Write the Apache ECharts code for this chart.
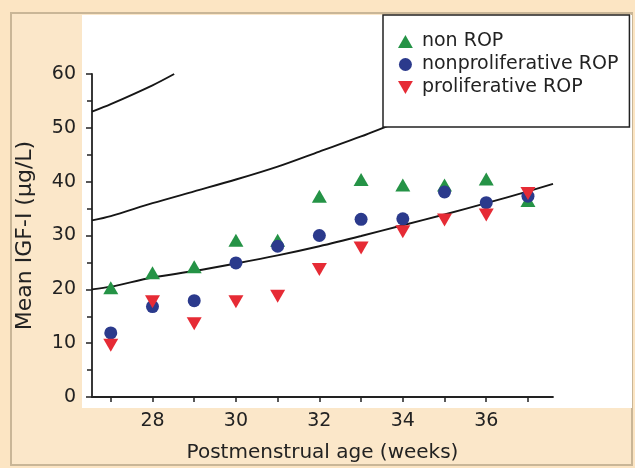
<!DOCTYPE html>
<html><head><meta charset="utf-8">
<script src="https://cdn.jsdelivr.net/npm/echarts@6/dist/echarts.min.js"></script>
<style>html,body{margin:0;padding:0;background:#FCE5C3}#c{width:635px;height:468px}</style>
</head><body><div id="c"></div>
<script>
const weeks = [27,28,29,30,31,32,33,34,35,36,37];
const nonROP = [20.3,23.1,24.2,29.1,29.1,37.3,40.4,39.4,39.4,40.5,36.5];
const nonprolifROP = [11.9,16.8,17.9,24.9,28.0,30.0,33.0,33.1,38.1,36.1,37.3];
const prolifROP = [9.6,17.7,13.6,17.7,18.7,23.7,27.7,30.7,32.9,33.8,37.8];
const curveLowX = [26.55,27,28,29,30,31,32,33,34,35,36,37,37.6];
const curveLowY = [20.0,20.5,22.2,23.4,24.8,26.3,28.0,29.9,31.9,33.9,36.0,38.2,39.6];
const curveMidX = [26.55,27,28,29,30,31,32,33,34];
const curveMidY = [32.8,33.6,36.0,38.2,40.4,42.8,45.6,48.4,51.5];
const curveTopX = [26.55,27,28,28.52];
const curveTopY = [53.0,54.4,57.9,60.0];
const xTickValues = [27,28,29,30,31,32,33,34,35,36,37];
const xTickLabels = [28,30,32,34,36];
const seriesNames = ['non ROP','nonproliferative ROP','proliferative ROP'];

const zip = (xs, ys) => xs.map((x,i)=>[x, ys[i]]);
const TRI_UP = 'path://M8,0L16,14L0,14Z';
const TRI_DOWN = 'path://M0,0L16,0L8,14Z';
const FONT = 'DejaVu Sans';
const TXT = '#222222';

const lineStyle = {color:'#161616', width:1.9};
const chart = echarts.init(document.getElementById('c'), null, {renderer:'canvas'});
chart.setOption({
  backgroundColor:'#FCE5C3',
  animation:false,
  graphic:[
    {type:'rect', z:-10, silent:true, shape:{x:11,y:13,width:621,height:452}, style:{fill:'#FBE7C9', stroke:'#C9B697', lineWidth:2}},
    {type:'rect', z:-9, silent:true, shape:{x:82,y:15,width:550,height:393}, style:{fill:'#ffffff'}}
  ],
  grid:{left:92, right:82, top:74, bottom:70},
  legend:{
    orient:'vertical', left:383, top:15,
    padding:[17,11,30,15], itemGap:4, itemWidth:15, itemHeight:13,
    backgroundColor:'#ffffff', borderColor:'#222', borderWidth:1.5,
    selectedMode:false,
    textStyle:{fontFamily:FONT, fontSize:19, lineHeight:19, color:TXT, padding:[0,0,0,4]},
    data:[
      {name:seriesNames[0], icon:TRI_UP},
      {name:seriesNames[1], icon:'circle'},
      {name:seriesNames[2], icon:TRI_DOWN}
    ]
  },
  xAxis:{
    type:'value', min:26.55, max:37.6,
    name:'Postmenstrual age (weeks)', nameLocation:'middle', nameGap:46,
    nameTextStyle:{fontFamily:FONT, fontSize:20, color:TXT},
    axisLine:{show:true, lineStyle:{color:'#222', width:1.8}},
    axisTick:{show:true, customValues:xTickValues, length:5, inside:false, lineStyle:{color:'#222', width:1.5}},
    axisLabel:{customValues:xTickLabels, fontFamily:FONT, fontSize:19, color:TXT, margin:15},
    splitLine:{show:false}
  },
  yAxis:{
    type:'value', min:0, max:60, interval:10,
    name:'Mean IGF-I (μg/L)', nameLocation:'middle', nameGap:56,
    nameTextStyle:{fontFamily:FONT, fontSize:22, color:TXT},
    axisLine:{show:true, lineStyle:{color:'#222', width:1.8}},
    axisTick:{show:true, length:6, inside:false, lineStyle:{color:'#222', width:1.5}},
    minorTick:{show:true, splitNumber:2, length:5, lineStyle:{color:'#222', width:1.5}},
    axisLabel:{fontFamily:FONT, fontSize:19, color:TXT, margin:16},
    splitLine:{show:false}
  },
  series:[
    {type:'line', data:zip(curveLowX, curveLowY), showSymbol:false, smooth:0.3, lineStyle, silent:true, z:2, clip:true},
    {type:'line', data:zip(curveMidX, curveMidY), showSymbol:false, smooth:0.3, lineStyle, silent:true, z:2, clip:true},
    {type:'line', data:zip(curveTopX, curveTopY), showSymbol:false, smooth:0.3, lineStyle, silent:true, z:2, clip:true},
    {name:seriesNames[0], type:'scatter', data:zip(weeks, nonROP), symbol:TRI_UP, symbolSize:[15,13], itemStyle:{color:'#259346', opacity:1}, z:3},
    {name:seriesNames[1], type:'scatter', data:zip(weeks, nonprolifROP), symbol:'circle', symbolSize:13, itemStyle:{color:'#2B3A8C', opacity:1}, z:4},
    {name:seriesNames[2], type:'scatter', data:zip(weeks, prolifROP), symbol:TRI_DOWN, symbolSize:[15,13], itemStyle:{color:'#E62B35', opacity:1}, z:5}
  ]
});
</script></body></html>
